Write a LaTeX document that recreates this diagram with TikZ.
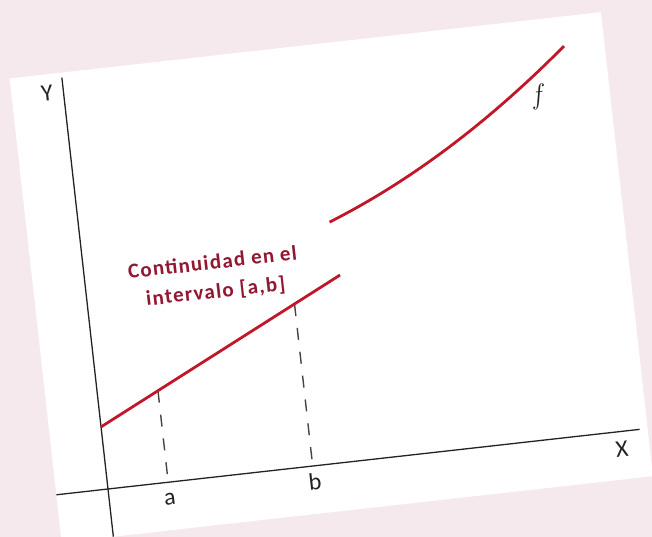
\documentclass[tikz,border=0pt]{standalone}
\usepackage{fontspec}
\setsansfont{Carlito}
\usepackage{xcolor}
\usetikzlibrary{positioning}
\definecolor{bgpink}{RGB}{245,233,238}
\definecolor{fnred}{RGB}{192,24,42}
\definecolor{notered}{RGB}{145,24,48}
\definecolor{inkgray}{RGB}{35,35,35}

\begin{document}
\begin{tikzpicture}[x=1pt, y=1pt,
    axis/.style={draw=inkgray, line width=1.3pt},
    fn/.style={draw=fnred, line width=2.8pt},
    guide/.style={draw=inkgray!85, line width=1.4pt, dash pattern=on 12pt off 12pt},
    lbl/.style={font=\sffamily\fontsize{24}{24}\selectfont, text=inkgray, inner sep=0pt}]
  \useasboundingbox (0,0) rectangle (652,537);
  \clip (0,0) rectangle (652,537);
  \fill[bgpink] (0,0) rectangle (652,537);

  % the sheet is tilted a little
  \begin{scope}[shift={(108,48)}, rotate=6.4, transform shape]
    \fill[white] (-52,-48) rectangle (543,419);

    \coordinate (o) at (0,0);
    \coordinate (ybot) at (0,-48);
    \coordinate (ytop) at (0,414);
    \coordinate (xleft) at (-52,0);
    \coordinate (xright) at (535,0);
    \coordinate (p0) at (0,62.5);
    \coordinate (p1) at (254.5,186.8);
    \coordinate (pa) at (60.6,92.1);
    \coordinate (pb) at (206,163);
    \coordinate (qa) at (60.6,0);
    \coordinate (qb) at (206,0);
    \coordinate (c0) at (250,240.6);
    \coordinate (c1) at (502.6,389.4);

    \draw[axis] (ybot) -- (ytop);
    \draw[axis] (xleft) -- (xright);
    \draw[guide] (pa) -- (qa);
    \draw[guide] (pb) -- (qb);
    \draw[fn] (p0) -- (p1);
    \draw[fn] (c0) .. controls (334.2,271.9) and (418.4,321.5) .. (c1);

    \node[lbl] (ylbl) at (-16.5,400.3) {Y};
    \node[lbl] (xlbl) at (515.3,-17.5) {X};
    \node[lbl] (albl) at (60.5,-16.8) {a};
    \node[lbl] (blbl) at (206.5,-16.1) {b};
    \node[text=inkgray, font=\rmfamily\itshape\fontsize{28}{28}\selectfont] (flbl) at (470,342) {f};
    \node[font=\sffamily\bfseries\fontsize{21}{29}\selectfont\addfontfeature{LetterSpace=6},
      text=notered, align=center, inner sep=1pt]
      (note) at (129,198) {Continuidad en el\\intervalo [a,b]};
  \end{scope}
\end{tikzpicture}
\end{document}
